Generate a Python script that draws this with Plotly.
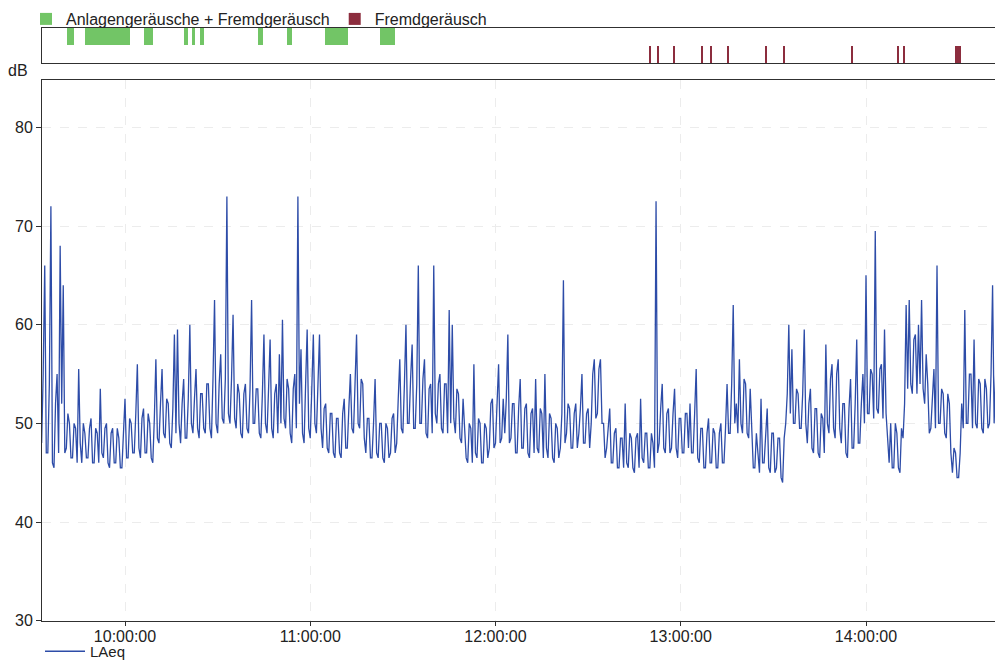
import pandas as pd
import plotly.graph_objects as go

# ---- data ----
DAY = "2023-06-01 "
start_time = DAY + "09:33:00"
# value at each full minute
laeq_min = [
    48, 66, 47, 72, 45.5, 55, 68, 64, 47.5, 50,
    46.5, 49.5, 55.5, 46, 49, 46.5, 50.5, 46, 49, 53.5,
    46.5, 50, 45.5, 49.5, 46, 48.5, 45.5, 52.5, 46.5, 50,
    47, 56, 46.5, 51.5, 47, 50, 46, 56.5, 48, 55.5,
    48.5, 52, 47.5, 59, 59.5, 48, 54.5, 48.5, 60, 49,
    55.5, 48.5, 53, 49, 54, 48.5, 62.5, 49, 57, 50,
    73, 50, 61, 49.5, 53, 48.5, 54, 49, 62.5, 50,
    53.5, 48.5, 59, 49, 58.5, 48.5, 54, 57, 60.5, 49.5,
    53.5, 48, 55, 73, 57.5, 48, 59.5, 48.5, 59, 49,
    59, 47.5, 52, 47, 51, 46.5, 50.5, 46.5, 52.5, 47.5,
    55, 49, 59, 49.5, 54, 47, 50.5, 46.5, 54.5, 46.5,
    50, 46, 49.5, 47, 51, 48, 56.5, 49, 60, 50,
    58, 49.5, 66, 50, 56.5, 48.5, 54, 66, 50, 55,
    49, 54, 61.5, 60, 49, 53, 48, 50, 46, 49.5,
    56, 46.5, 50, 46, 49.5, 47.5, 52.5, 48, 56, 48.5,
    49, 59, 48.5, 52, 47, 54.5, 47.5, 52, 46.5, 51.5,
    54.5, 47, 51, 55, 46.5, 50.5, 46, 49.5, 47.5, 64.5,
    49, 51.5, 47.5, 52, 49, 55, 48, 51.5, 50, 56.5,
    51, 56.5, 50, 47.5, 51.5, 46, 49.5, 45.5, 48.5, 52,
    45.5, 48.5, 45, 49, 52.5, 46, 49, 45.5, 48, 72.5,
    48, 54, 47, 51.5, 47.5, 53.5, 46.5, 50.5, 47, 51,
    52, 47, 55.5, 46, 49.5, 45.5, 50.5, 46, 49, 45.5,
    50, 46, 54, 49, 62, 52, 56.5, 49, 54, 48.5,
    49.5, 45.5, 47, 52.5, 46, 51.5, 45, 49, 45.5, 48.5,
    44, 50, 60, 57.5, 50, 53, 49.5, 59.5, 48, 53.5,
    47, 51.5, 46.5, 50.5, 58, 49, 56, 48.5, 56.5, 48,
    52, 46.5, 54.5, 47.5, 58.5, 48, 55, 65, 51, 55,
    69.5, 51, 56, 59.5, 48.5, 50, 45.5, 49, 45, 48.5,
    62, 62.5, 53, 59, 60, 62.5, 52, 54, 49.5, 55.5,
    66, 50, 53, 48.5, 52, 45, 47, 44.5, 52, 61.5,
    50, 55, 58.5, 49.5, 54, 49, 53.5, 50, 64, 55,
]
# value half a minute later (opposite side of the noise band)
laeq_half = [
    55, 47, 54, 46, 52, 47, 52, 47, 51, 46.5,
    50, 46, 48, 50, 46.5, 49.5, 46, 49.5, 46, 47,
    49.5, 46, 49, 46, 49.5, 45.5, 49, 46.5, 50.5, 47,
    51, 47.5, 50.5, 47, 51, 46.5, 50.5, 48.5, 52, 49,
    52.5, 48, 51.5, 49, 50, 52, 48.5, 52.5, 50, 52.5,
    49.5, 53, 49.5, 54, 49.5, 54.5, 50, 54, 50.5, 54.5,
    51, 54.5, 50.5, 54, 49, 53, 49.5, 53.5, 50, 53.5,
    49, 53, 50, 53.5, 49.5, 53, 49, 50, 50.5, 54.5,
    49, 53.5, 49.5, 52, 49, 54, 49.5, 53.5, 50, 54,
    49.5, 51.5, 47.5, 51, 47, 50.5, 47, 51, 47.5, 51.5,
    49.5, 54, 50, 54.5, 48.5, 50.5, 46.5, 50, 47, 50,
    46.5, 50, 46.5, 50.5, 47, 52.5, 49.5, 54, 50, 54.5,
    49.5, 54, 50, 54.5, 49, 53.5, 49, 51, 54, 49.5,
    54, 49, 50, 50.5, 53.5, 48.5, 52.5, 46.5, 50, 46,
    47, 50.5, 46, 50, 46.5, 52, 47.5, 52.5, 48, 52.5,
    52.5, 48, 52, 47, 51.5, 47.5, 51.5, 47, 51, 47,
    47.5, 51.5, 46.5, 47.5, 51, 46.5, 50, 46.5, 51, 48,
    52, 47.5, 51, 47.5, 51.5, 48, 51, 47.5, 55, 50.5,
    55.5, 50, 46.5, 49.5, 46, 49, 45.5, 48.5, 45.5, 46,
    49, 45.5, 48.5, 45.5, 46.5, 49, 45.5, 49, 45.5, 47,
    51.5, 47.5, 51, 47, 51, 47.5, 50.5, 47, 51, 47.5,
    47, 51, 46.5, 49.5, 45.5, 49, 46, 49.5, 45.5, 49,
    46, 49.5, 49, 54, 50, 49, 50, 54.5, 49, 53.5,
    45.5, 49, 45, 46, 49.5, 45.5, 49, 45, 48.5, 44.5,
    48.5, 53, 51, 50, 53.5, 49.5, 53, 50, 52, 47.5,
    51.5, 47, 51, 47, 50, 54.5, 49.5, 55, 49.5, 52,
    47, 51.5, 47.5, 52, 48, 52, 50, 51, 55.5, 50.5,
    51.5, 55.5, 50.5, 51, 46, 45.5, 50, 45.5, 49.5, 52,
    53.5, 54, 58.5, 53, 54, 53.5, 57, 49, 53, 49.5,
    50, 53.5, 49, 53, 47, 47.5, 44.5, 47, 49.5, 50,
    55, 49.5, 50, 54.5, 49.5, 54.5, 49.5, 55, 50, 51,
]

green_start = ["09:41:12", "09:47:02", "10:06:09", "10:19:06", "10:21:42", "10:24:18",
               "10:43:05", "10:52:29", "11:04:47", "11:22:36"]
green_end = ["09:43:30", "10:01:37", "10:09:04", "10:20:24", "10:22:40", "10:25:35",
             "10:44:42", "10:54:06", "11:12:14", "11:27:27"]
red_start = ["12:49:50", "12:52:26", "12:57:37", "13:06:41", "13:09:36", "13:15:06",
             "13:27:25", "13:33:15", "13:55:18", "14:10:10", "14:12:06", "14:28:50"]
red_end = ["12:50:20", "12:52:56", "12:58:00", "13:07:11", "13:10:06", "13:15:30",
           "13:27:50", "13:33:40", "13:55:38", "14:10:34", "14:12:30", "14:30:46"]

x_range = [DAY + "09:33:07", DAY + "14:41:47"]
y_range = [30, 84.8]
y_ticks = [30, 40, 50, 60, 70, 80]

# ---- build figure ----
t_min = pd.date_range(start=start_time, periods=len(laeq_min), freq="1min")
t_half = t_min + pd.Timedelta(seconds=30)
series = pd.concat([pd.Series(laeq_min, index=t_min),
                    pd.Series(laeq_half, index=t_half)]).sort_index()


def bar_geom(starts, ends):
    s = pd.to_datetime([DAY + t for t in starts])
    e = pd.to_datetime([DAY + t for t in ends])
    mid = s + (e - s) / 2
    width = [(b - a).total_seconds() * 1000 for a, b in zip(s, e)]
    return mid, width


W, H = 995, 668
LINE = "#2d4ca8"
AX = "#303030"
GRID = "#ececec"
TXT = "#222222"
FONT = "Liberation Sans, Arial, sans-serif"

fig = go.Figure()

gm, gw = bar_geom(green_start, green_end)
fig.add_trace(go.Bar(x=gm, y=[1.0] * len(gm), base=[1.02] * len(gm), width=gw,
                     marker=dict(color="#72c566", line=dict(width=0)),
                     name="Anlagengeräusche + Fremdgeräusch",
                     xaxis="x2", yaxis="y2", legend="legend", hoverinfo="skip"))
rm, rw = bar_geom(red_start, red_end)
fig.add_trace(go.Bar(x=rm, y=[0.95] * len(rm), base=[0.0] * len(rm), width=rw,
                     marker=dict(color="#8c2d3e", line=dict(width=0)),
                     name="Fremdgeräusch",
                     xaxis="x2", yaxis="y2", legend="legend", hoverinfo="skip"))

fig.add_trace(go.Scatter(x=series.index, y=series.values, mode="lines", name="LAeq",
                         line=dict(color=LINE, width=1.3),
                         xaxis="x", yaxis="y", legend="legend2"))

x0 = 42 / W
main_dom = [1 - 620.7 / H, 1 - 80 / H]
strip_dom = [1 - 63 / H, 1 - 28 / H]

fig.update_layout(
    width=W, height=H,
    margin=dict(l=0, r=0, t=0, b=0),
    paper_bgcolor="white", plot_bgcolor="white",
    font=dict(family=FONT, size=16, color=TXT),
    barmode="overlay",
    bargap=0,
    showlegend=True,
    xaxis=dict(domain=[x0, 1], type="date", range=x_range, automargin=False,
               tickformat="%H:%M:%S", dtick=3600000,
               tick0=DAY + "10:00:00",
               showline=True, linecolor=AX, linewidth=1, mirror=True,
               ticks="outside", ticklen=4, tickcolor=AX, ticklabelstandoff=-3,
               showgrid=True, gridcolor=GRID, griddash="dash", gridwidth=1,
               zeroline=False, tickfont=dict(size=16, color=TXT)),
    yaxis=dict(domain=main_dom, range=y_range, automargin=False,
               tickvals=y_ticks,
               showline=True, linecolor=AX, linewidth=1,
               ticks="outside", ticklen=5, tickcolor=AX,
               showgrid=True, gridcolor=GRID, griddash="dash", gridwidth=1,
               zeroline=False, tickfont=dict(size=16, color=TXT)),
    xaxis2=dict(domain=[x0, 1], type="date", range=x_range, matches="x",
                anchor="y2", showticklabels=False, ticks="", showgrid=False,
                showline=True, linecolor=AX, linewidth=1, mirror=True,
                zeroline=False, automargin=False),
    yaxis2=dict(domain=strip_dom, range=[0, 2], anchor="x2",
                showticklabels=False, ticks="", showgrid=False,
                showline=True, linecolor=AX, linewidth=1,
                zeroline=False, automargin=False),
    legend=dict(x=26 / W, y=1 - 2 / H, xanchor="left", yanchor="top",
                orientation="h", bgcolor="rgba(0,0,0,0)",
                font=dict(size=16, color=TXT),
                itemwidth=30, tracegroupgap=0, traceorder="normal"),
    legend2=dict(x=40 / W, y=0, xanchor="left", yanchor="bottom",
                 orientation="h", bgcolor="rgba(0,0,0,0)",
                 font=dict(size=15, color=TXT), itemwidth=40),
    annotations=[dict(text="dB", x=18 / W, y=1 - 70 / H, xref="paper", yref="paper",
                      xanchor="center", yanchor="middle",
                      showarrow=False, font=dict(size=16, color=TXT))],
)

fig.write_html("out.html",
               config={"displayModeBar": False, "responsive": False},
               post_script="document.body.style.margin='0px';"
                           "document.body.style.overflow='hidden';")
